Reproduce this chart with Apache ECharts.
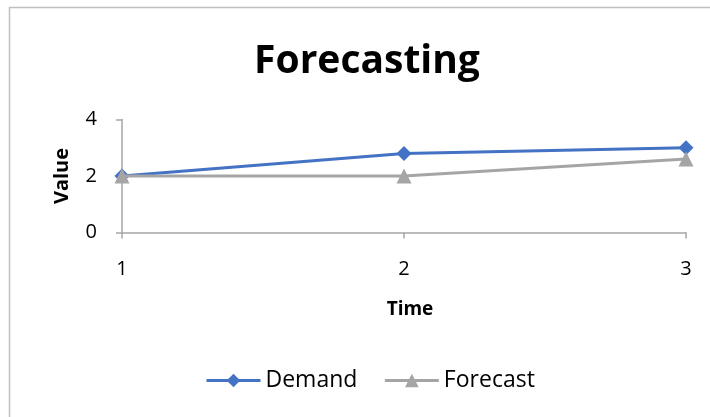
<!DOCTYPE html>
<html>
<head>
<meta charset="utf-8">
<script src="https://cdn.jsdelivr.net/npm/echarts@6/dist/echarts.min.js"></script>
<style>
html,body{margin:0;padding:0;background:#fff;}
#chart{width:710px;height:417px;}
</style>
</head>
<body>
<div id="chart"></div>
<script>
// Time periods and series values
var periods = [1, 2, 3];
var demand = [2, 2.8, 3];
var forecast = [2, 2, 2.6];
var yTicks = [0, 2, 4];

var FONT = '"Open Sans", sans-serif';
var AXIS_GRAY = '#a6a6a6';

function pairs(xs, ys) {
  return xs.map(function (x, i) { return [x, ys[i]]; });
}

var chart = echarts.init(document.getElementById('chart'), null, { renderer: 'canvas' });
chart.setOption({
  animation: false,
  backgroundColor: '#ffffff',
  graphic: [{
    type: 'rect',
    shape: { x: 9.5, y: 7.5, width: 720, height: 430 },
    style: { fill: 'none', stroke: '#bfbfbf', lineWidth: 1.5 },
    silent: true
  }],
  title: {
    text: 'Forecasting',
    left: 362,
    textAlign: 'center',
    top: 37,
    textStyle: { fontFamily: FONT, fontSize: 39, fontWeight: 'bold', color: '#000' }
  },
  grid: { left: 122, right: 24, top: 119.5, bottom: 184.5 },
  legend: {
    bottom: 20,
    left: 200,
    itemWidth: 54,
    itemHeight: 17,
    itemGap: 26,
    lineStyle: { width: 3 },
    textStyle: { fontFamily: FONT, fontSize: 23, color: '#000', padding: [0, 0, 0, 0] },
    data: ['Demand', 'Forecast']
  },
  xAxis: {
    type: 'value',
    min: periods[0],
    max: periods[periods.length - 1],
    interval: 1,
    name: 'Time',
    nameLocation: 'middle',
    nameGap: 68,
    nameTextStyle: { fontFamily: FONT, fontSize: 19, fontWeight: 'bold', color: '#000', padding: [0, 0, 0, 12] },
    axisLine: { show: true, lineStyle: { color: AXIS_GRAY, width: 1.5 } },
    axisTick: { show: true, length: 6, lineStyle: { color: AXIS_GRAY, width: 1.5 } },
    axisLabel: { fontFamily: FONT, fontSize: 20, color: '#000', margin: 27 },
    splitLine: { show: false }
  },
  yAxis: {
    type: 'value',
    min: yTicks[0],
    max: yTicks[yTicks.length - 1],
    interval: 2,
    name: 'Value',
    nameLocation: 'middle',
    nameGap: 50,
    nameRotate: 90,
    nameTextStyle: { fontFamily: FONT, fontSize: 20, fontWeight: 'bold', color: '#000' },
    axisLine: { show: true, lineStyle: { color: AXIS_GRAY, width: 1.5 } },
    axisTick: { show: true, length: 6, lineStyle: { color: AXIS_GRAY, width: 1.5 } },
    axisLabel: { fontFamily: FONT, fontSize: 20, color: '#000', margin: 25 },
    splitLine: { show: false }
  },
  series: [
    {
      name: 'Demand',
      type: 'line',
      data: pairs(periods, demand),
      symbol: 'diamond',
      symbolSize: 15,
      lineStyle: { color: '#4472C4', width: 3 },
      itemStyle: { color: '#4472C4' },
      z: 2
    },
    {
      name: 'Forecast',
      type: 'line',
      data: pairs(periods, forecast),
      symbol: 'triangle',
      symbolSize: 15,
      lineStyle: { color: '#A5A5A5', width: 3 },
      itemStyle: { color: '#A5A5A5' },
      z: 3
    }
  ]
});
</script>
</body>
</html>
